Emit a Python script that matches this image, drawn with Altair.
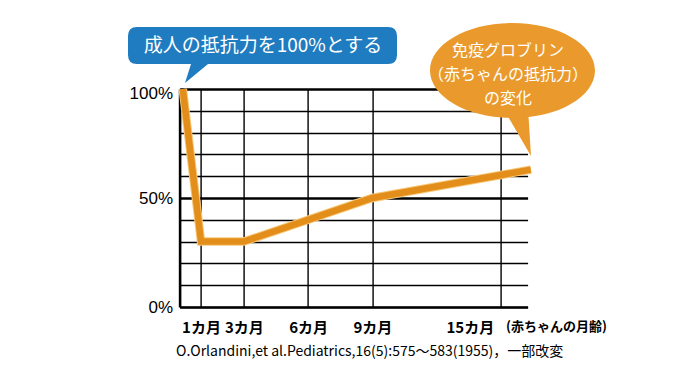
import altair as alt
import pandas as pd

# ---- data ----
months = [0.15, 1.0, 3.0, 6.0, 9.0, 16.4]
resistance = [100, 30, 30, 40, 50, 63]
month_ticks = [1, 3, 6, 9, 15]
pct_grid = [0, 10, 20, 30, 40, 50, 60, 70, 80, 90, 100]
pct_labels = [0, 50, 100]
x_unit = "カ月"
callout_adult = "成人の抵抗力を100%とする"
callout_ig = ["免疫グロブリン", "（赤ちゃんの抵抗力）", "の変化"]
age_note = "(赤ちゃんの月齢)"
source_note = "O.Orlandini,et al.Pediatrics,16(5):575〜583(1955)，一部改変"

# ---- styling / layout constants ----
OX, OY = 179.6, 89.0          # page position of plot origin
W, H = 348, 218
ORANGE_LINE = "#E38D1B"
ORANGE_HALO = "#F6C878"
ORANGE_BUBBLE = "#EA9A2C"
BLUE = "#1F7CC0"
JP = "Noto Sans CJK JP"

df = pd.DataFrame({"month": months, "pct": resistance})


def P(x, y):
    return f"{x - OX:.1f} {y - OY:.1f}"


# blue rounded callout with tail (page coords converted to plot-relative)
x0, x1, y0, y1, r = 128, 397, 27, 64, 9
blue_path = (
    f"M {P(x0 + r, y0)} L {P(x1 - r, y0)} Q {P(x1, y0)} {P(x1, y0 + r)} "
    f"L {P(x1, y1 - r)} Q {P(x1, y1)} {P(x1 - r, y1)} "
    f"L {P(208, y1)} L {P(185, 83)} L {P(191, y1)} "
    f"L {P(x0 + r, y1)} Q {P(x0, y1)} {P(x0, y1 - r)} "
    f"L {P(x0, y0 + r)} Q {P(x0, y0)} {P(x0 + r, y0)} Z"
)

# orange ellipse callout with tail
cx, cy, rx, ry, k = 512.5, 70.5, 82.5, 47.5, 0.5523
orange_path = (
    f"M {P(cx - rx, cy)} "
    f"C {P(cx - rx, cy - k * ry)} {P(cx - k * rx, cy - ry)} {P(cx, cy - ry)} "
    f"C {P(cx + k * rx, cy - ry)} {P(cx + rx, cy - k * ry)} {P(cx + rx, cy)} "
    f"C {P(cx + rx, cy + k * ry)} {P(cx + k * rx, cy + ry)} {P(cx, cy + ry)} "
    f"C {P(cx - k * rx, cy + ry)} {P(cx - rx, cy + k * ry)} {P(cx - rx, cy)} Z "
    f"M {P(503, 108)} L {P(528, 108)} L {P(531, 156)} Z"
)

x_scale = alt.Scale(domain=[0, 16.25], nice=False, zero=True)
y_scale = alt.Scale(domain=[0, 100], nice=False)

x_axis = alt.Axis(
    values=month_ticks, grid=True, gridColor="black", gridWidth=1.4,
    domainColor="black", domainWidth=2.6, ticks=False, tickSize=0, zindex=0,
    labelExpr=f"datum.value + '{x_unit}'", labelFont=JP, labelFontSize=15,
    labelFontWeight="bold", labelColor="black", labelBaseline="middle",
    labelPadding=20, labelOffset={"condition": {"test": "datum.value === 15", "value": -31}, "value": 0},
    title=None,
)
y_axis = alt.Axis(
    values=pct_grid, grid=True, gridColor="black",
    gridWidth={"condition": {"test": "datum.value === 50 || datum.value === 100", "value": 2.6}, "value": 1.4},
    domainColor="black", domainWidth=2.6, ticks=False, tickSize=0, zindex=0,
    labelExpr="indexof([" + ",".join(str(v) for v in pct_labels) + "], datum.value) >= 0 ? datum.value + '%' : ''",
    labelFont="Liberation Sans", labelFontSize=17, labelColor="black",
    labelBaseline="middle", labelPadding=7,
    labelOffset={"condition": {"test": "datum.value === 100", "value": 4}, "value": 0},
    title=None,
)

base = alt.Chart(df).encode(
    x=alt.X("month:Q", scale=x_scale, axis=x_axis),
    y=alt.Y("pct:Q", scale=y_scale, axis=y_axis),
)
halo = base.mark_line(color=ORANGE_HALO, strokeWidth=8.5, strokeJoin="miter", strokeCap="butt")
line = base.mark_line(color=ORANGE_LINE, strokeWidth=6.5, strokeJoin="miter", strokeCap="butt")

one = alt.Data(values=[{"a": 1}])

blue_bubble = alt.Chart(one).mark_point(
    shape=blue_path, size=4, filled=True, fill=BLUE, strokeWidth=0, opacity=1
).encode(x=alt.value(0), y=alt.value(0))

orange_bubble = alt.Chart(one).mark_point(
    shape=orange_path, size=4, filled=True, fill=ORANGE_BUBBLE, strokeWidth=0, opacity=1
).encode(x=alt.value(0), y=alt.value(0))

blue_text = alt.Chart(one).mark_text(
    text=callout_adult, font=JP, fontSize=19, color="white", align="center", baseline="middle"
).encode(x=alt.value(263 - OX), y=alt.value(45.5 - OY))

orange_texts = [
    alt.Chart(one).mark_text(
        text=t, font=JP, fontSize=16, color="white", align="center", baseline="middle"
    ).encode(x=alt.value(508 - OX), y=alt.value(ly - OY))
    for t, ly in zip(callout_ig, [50.5, 74.5, 98.5])
]

age_text = alt.Chart(one).mark_text(
    text=age_note, font=JP, fontSize=13, fontWeight="bold", color="black",
    align="left", baseline="middle"
).encode(x=alt.value(506 - OX), y=alt.value(327 - OY))

src_text = alt.Chart(one).mark_text(
    text=source_note, font=JP, fontSize=14, color="black",
    align="left", baseline="middle"
).encode(x=alt.value(176 - OX), y=alt.value(352 - OY))

chart = alt.layer(
    halo, line, blue_bubble, orange_bubble, blue_text, *orange_texts, age_text, src_text
).properties(
    width=W, height=H,
    autosize=alt.AutoSizeParams(type="none"),
    padding={"left": OX - 8, "top": OY - 8, "right": 682 - (OX - 8) - W, "bottom": 371 - (OY - 8) - H},
    background="white",
).configure_view(stroke=None)

chart.save("out.html", embed_options={"renderer": "svg", "actions": False})
